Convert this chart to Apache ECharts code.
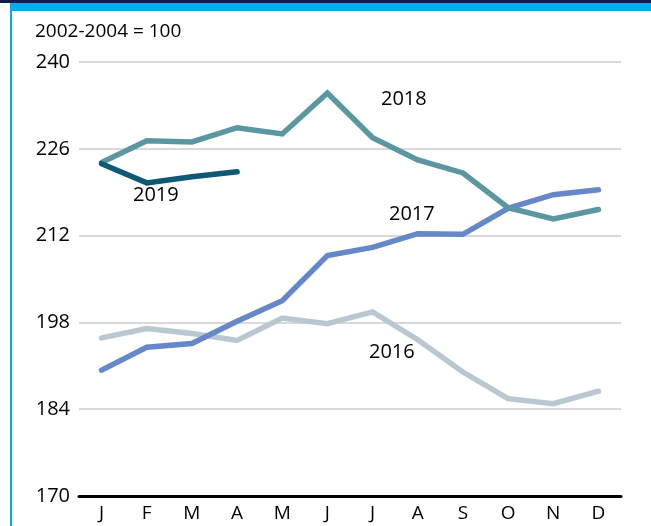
<!DOCTYPE html>
<html>
<head>
<meta charset="utf-8">
<script src="https://cdn.jsdelivr.net/npm/echarts@6/dist/echarts.min.js"></script>
<style>
  html, body { margin: 0; padding: 0; background: #fff; }
  #chart { width: 651px; height: 526px; }
</style>
</head>
<body>
<div id="chart"></div>
<script>
var months = ['J', 'F', 'M', 'A', 'M', 'J', 'J', 'A', 'S', 'O', 'N', 'D'];
var yTicks = [170, 184, 198, 212, 226, 240];

var y2016 = [195.5, 197.0, 196.2, 195.1, 198.7, 197.8, 199.7, 195.2, 190.0, 185.7, 184.9, 186.9];
var y2017 = [190.3, 194.0, 194.6, 198.2, 201.5, 208.8, 210.1, 212.3, 212.2, 216.4, 218.6, 219.4];
var y2018 = [223.8, 227.3, 227.1, 229.4, 228.4, 235.0, 227.8, 224.2, 222.1, 216.5, 214.7, 216.2];
var y2019 = [223.6, 220.5, 221.5, 222.3];

var font = 'Open Sans';

function lineSeries(name, data, color, z) {
  return {
    name: name,
    type: 'line',
    data: data,
    symbol: 'none',
    z: z,
    lineStyle: { color: color, width: 5.5, cap: 'round', join: 'miter' }
  };
}

function label(text, x, y) {
  return {
    type: 'text', x: x, y: y, z: 10,
    style: { text: text, fill: '#000', fontSize: 20, fontFamily: font, verticalAlign: 'middle' }
  };
}

var chart = echarts.init(document.getElementById('chart'));
chart.setOption({
  animation: false,
  backgroundColor: '#fff',
  textStyle: { fontFamily: font },
  grid: { left: 79, right: 30, top: 62, bottom: 30 },
  xAxis: {
    type: 'category',
    data: months,
    boundaryGap: true,
    axisLine: { lineStyle: { color: '#000', width: 3 } },
    axisTick: { show: false },
    axisLabel: { color: '#000', fontSize: 19, margin: 8, fontFamily: font }
  },
  yAxis: {
    type: 'value',
    min: yTicks[0],
    max: yTicks[yTicks.length - 1],
    interval: yTicks[1] - yTicks[0],
    axisLine: { show: false },
    axisTick: { show: false },
    axisLabel: { color: '#000', fontSize: 20, margin: 9, fontFamily: font },
    splitLine: { lineStyle: { color: '#cccccc', width: 1.5 } }
  },
  graphic: [
    { type: 'rect', left: 0, top: 0, shape: { width: 651, height: 3 }, style: { fill: '#0b1f4d' } },
    { type: 'rect', left: 10, top: 3, shape: { width: 641, height: 8 }, style: { fill: '#00aeef' } },
    { type: 'rect', left: 10, top: 3, shape: { width: 2, height: 523 }, style: { fill: '#00aeef' } },
    {
      type: 'text', x: 35, y: 32,
      style: { text: '2002-2004 = 100', fill: '#000', fontSize: 19, fontFamily: font, verticalAlign: 'middle' }
    },
    label('2018', 381, 99),
    label('2019', 133, 195),
    label('2017', 389, 214),
    label('2016', 369, 352)
  ],
  series: [
    lineSeries('2016', y2016, '#b9c8d0', 2),
    lineSeries('2017', y2017, '#6688c9', 3),
    lineSeries('2018', y2018, '#5a97a1', 4),
    lineSeries('2019', y2019, '#0f5a73', 5)
  ]
});
</script>
</body>
</html>
